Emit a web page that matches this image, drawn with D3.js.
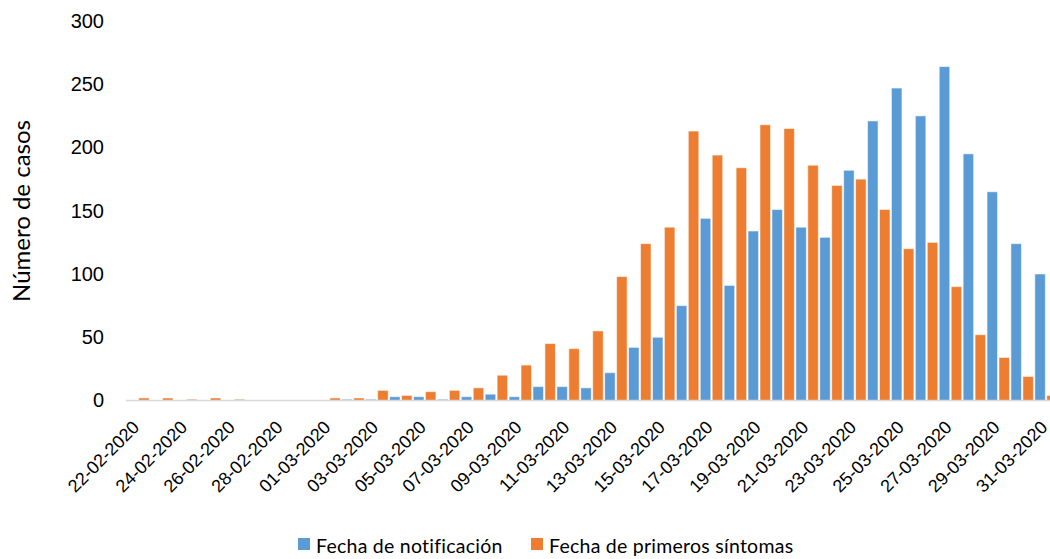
<!DOCTYPE html>
<html>
<head>
<meta charset="utf-8">
<script src="https://cdn.jsdelivr.net/npm/d3@7"></script>
<style>
    body { margin: 0; background: #fff; }
    svg { font-family: Lato, "Noto Sans", sans-serif; }
    .y-axis text { font-size: 20px; fill: #000; }
    .x-axis text { font-size: 18px; fill: #000; }
    .axis-title { font-size: 24px; fill: #000; }
    .legend text { font-size: 19.5px; fill: #000; letter-spacing: 0.25px; }
</style>
</head>
<body>
<div id="chart"></div>
<script>

const dates = ["22-02-2020", "23-02-2020", "24-02-2020", "25-02-2020", "26-02-2020", "27-02-2020",
    "28-02-2020", "29-02-2020", "01-03-2020", "02-03-2020", "03-03-2020", "04-03-2020", "05-03-2020",
    "06-03-2020", "07-03-2020", "08-03-2020", "09-03-2020", "10-03-2020", "11-03-2020", "12-03-2020",
    "13-03-2020", "14-03-2020", "15-03-2020", "16-03-2020", "17-03-2020", "18-03-2020", "19-03-2020",
    "20-03-2020", "21-03-2020", "22-03-2020", "23-03-2020", "24-03-2020", "25-03-2020", "26-03-2020",
    "27-03-2020", "28-03-2020", "29-03-2020", "30-03-2020", "31-03-2020"];

// Fecha de notificación
const notificacion = [0, 0, 0, 0, 0, 0, 0, 0, 0, 1, 1, 3, 3, 1, 3, 5, 3, 11, 11, 10,
    22, 42, 50, 75, 144, 91, 134, 151, 137, 129, 182, 221, 247, 225, 264, 195, 165, 124, 100];

// Fecha de primeros síntomas
const sintomas = [2, 2, 1, 2, 1, 0, 0, 0, 2, 2, 8, 4, 7, 8, 10, 20, 28, 45, 41, 55,
    98, 124, 137, 213, 194, 184, 218, 215, 186, 170, 175, 151, 120, 125, 90, 52, 34, 19, 4];

const yTicks = [0, 50, 100, 150, 200, 250, 300];
const seriesNames = ["Fecha de notificación", "Fecha de primeros síntomas"];
const seriesColors = ["#5B9BD5", "#ED7D31"];

const width = 1050, height = 559;

let svg = d3.select("#chart").append("svg")
    .attr("width", width)
    .attr("height", height);

// plot area runs past the right edge of the picture, as in the original
let x = d3.scaleBand()
    .domain(dates)
    .range([126, 1058])
    .paddingInner(0)
    .paddingOuter(0);

let x1 = d3.scaleBand()
    .domain([0, 1])
    .range([0, x.bandwidth()])
    .paddingInner(0.12)
    .paddingOuter(0.06);

let y = d3.scaleLinear()
    .domain([0, 300])
    .range([400.5, 21]);

// bars
let rows = dates.map((d, i) => ({date: d, values: [notificacion[i], sintomas[i]]}));

let groups = svg.append("g").selectAll("g")
    .data(rows)
    .enter()
    .append("g")
    .attr("transform", d => `translate(${x(d.date)},0)`);

groups.selectAll("rect")
    .data(d => d.values)
    .enter()
    .append("rect")
    .attr("x", (d, i) => x1(i))
    .attr("width", x1.bandwidth())
    .attr("y", d => y(d))
    .attr("height", d => y(0) - y(d))
    .attr("fill", (d, i) => seriesColors[i])
    .attr("stroke", "rgba(255,255,255,0.55)")
    .attr("stroke-width", 1);

// axes
let yAxis = d3.axisLeft(y).tickValues(yTicks).tickSize(0).tickPadding(22);
svg.append("g")
    .attr("class", "y-axis")
    .attr("transform", "translate(126,0)")
    .call(yAxis)
    .call(g => g.select(".domain").remove());

let xAxis = d3.axisBottom(x)
    .tickValues(dates.filter((d, i) => i % 2 === 0))
    .tickSize(0);

let xg = svg.append("g")
    .attr("class", "x-axis")
    .call(xAxis);
xg.select(".domain").remove();
xg.selectAll(".tick").attr("transform", d => `translate(${x(d) + x.bandwidth() / 2},0)`);
xg.selectAll("text")
    .attr("x", 0)
    .attr("y", 0)
    .attr("dy", "0.35em")
    .attr("text-anchor", "end")
    .attr("transform", "translate(-2,424) rotate(-45)");

svg.append("line")
    .attr("x1", 126)
    .attr("x2", width)
    .attr("y1", y(0))
    .attr("y2", y(0))
    .attr("stroke", "#D9D9D9")
    .attr("stroke-width", 1.5);

svg.append("text")
    .attr("class", "axis-title")
    .attr("text-anchor", "middle")
    .attr("transform", "translate(30,211) rotate(-90)")
    .text("Número de casos");

// legend
let legendX = [298, 531];
let legend = svg.append("g").attr("class", "legend");
seriesNames.forEach((name, i) => {
    legend.append("rect")
        .attr("x", legendX[i])
        .attr("y", 538)
        .attr("width", 12)
        .attr("height", 12)
        .attr("fill", seriesColors[i]);
    legend.append("text")
        .attr("x", legendX[i] + 18)
        .attr("y", 553)
        .text(name);
});

</script>
</body>
</html>
